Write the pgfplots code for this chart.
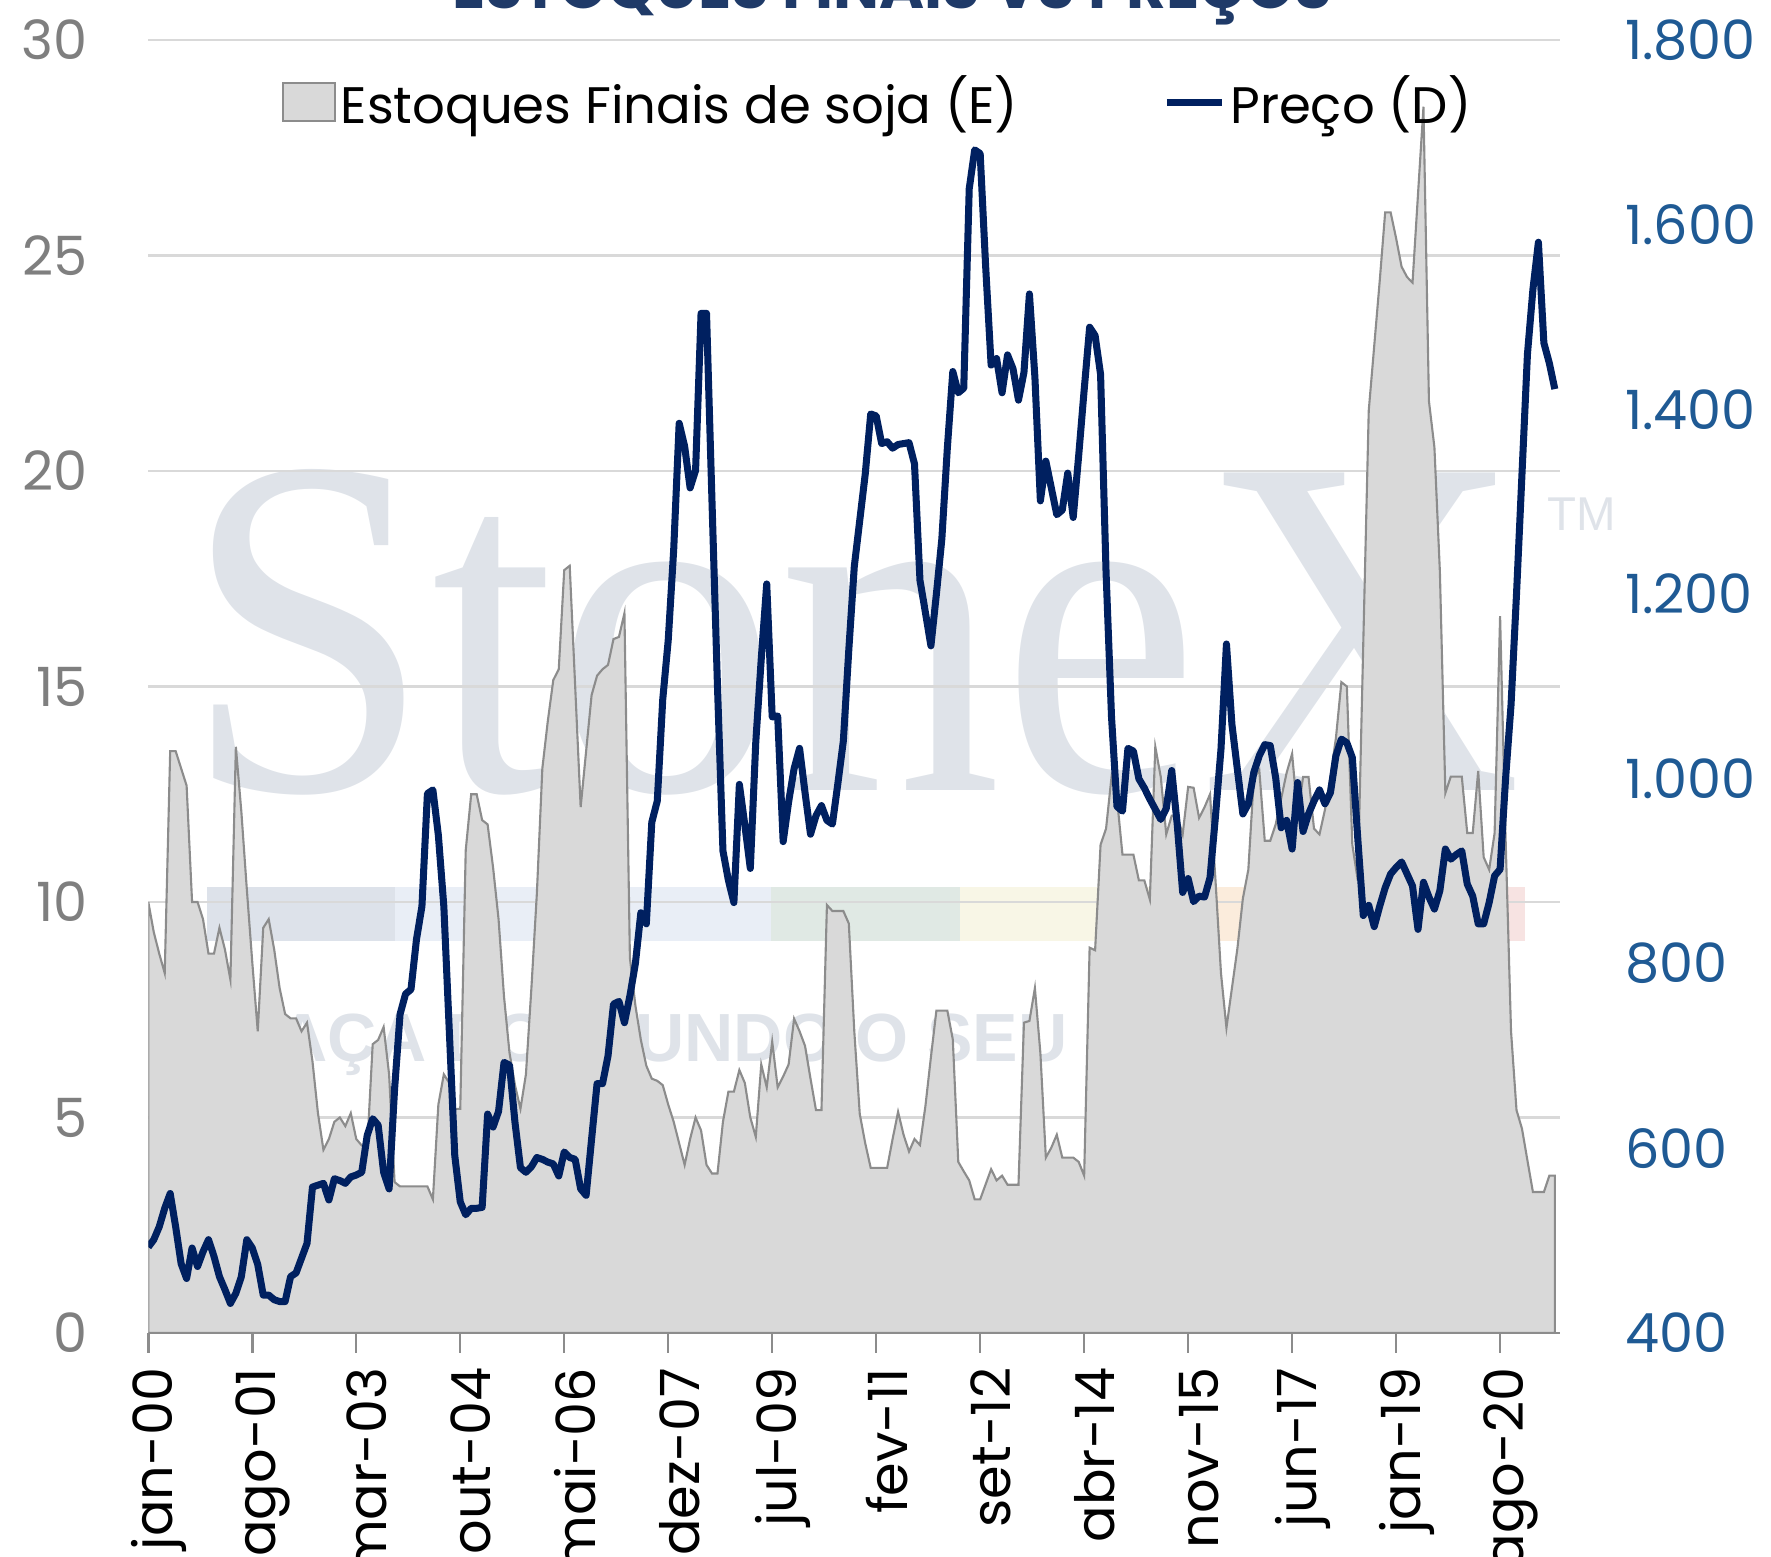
\documentclass[border=0pt]{standalone}
\usepackage{fontspec}
\setmainfont{Poppins}
\newfontfamily\serifwm{Liberation Serif}
\newfontfamily\sanswm{Liberation Sans}
\usepackage{pgfplots}
\usepackage{pgfplotstable}
\pgfplotsset{compat=1.18}
\definecolor{areagray}{HTML}{D9D9D9}
\definecolor{areaedge}{HTML}{8C8C8C}
\definecolor{navy}{HTML}{002060}
\definecolor{gridc}{HTML}{D9D9D9}
\definecolor{axisc}{HTML}{8C8C8C}
\definecolor{leftlab}{HTML}{7F7F7F}
\definecolor{rightlab}{HTML}{1F5A94}
\definecolor{titlec}{HTML}{1F3A68}
\definecolor{wm}{HTML}{DFE3E9}
\definecolor{bandA}{HTML}{DDE2EA}
\definecolor{bandB}{HTML}{E9EEF6}
\definecolor{bandC}{HTML}{E0E9E4}
\definecolor{bandD}{HTML}{F8F6E6}
\definecolor{bandE}{HTML}{FBECDC}
\definecolor{bandF}{HTML}{F7E3E2}

\pgfplotstableread[row sep=\\]{m v\\
0 10.0\\1 9.3\\2 8.8\\3 8.35\\4 13.5\\5 13.5\\6 13.1\\7 12.7\\8 10.0\\9 10.0\\
10 9.6\\11 8.8\\12 8.8\\13 9.4\\14 8.9\\15 8.2\\16 13.6\\17 12.1\\18 10.3\\19 8.6\\
20 7.0\\21 9.4\\22 9.6\\23 8.9\\24 8.0\\25 7.4\\26 7.3\\27 7.3\\28 7.0\\29 7.2\\
30 6.3\\31 5.1\\32 4.25\\33 4.5\\34 4.9\\35 5.0\\36 4.8\\37 5.1\\38 4.5\\39 4.35\\
40 4.3\\41 6.7\\42 6.8\\43 7.1\\44 6.0\\45 3.5\\46 3.4\\47 3.4\\48 3.4\\49 3.4\\
50 3.4\\51 3.4\\52 3.1\\53 5.3\\54 6.0\\55 5.8\\56 5.2\\57 5.2\\58 11.2\\59 12.5\\
60 12.5\\61 11.9\\62 11.8\\63 10.8\\64 9.6\\65 7.8\\66 6.5\\67 5.75\\68 5.2\\69 6.0\\
70 8.0\\71 10.2\\72 13.1\\73 14.2\\74 15.15\\75 15.4\\76 17.7\\77 17.8\\78 15.0\\79 12.2\\
80 13.5\\81 14.8\\82 15.25\\83 15.4\\84 15.5\\85 16.1\\86 16.15\\87 16.7\\88 8.7\\89 7.6\\
90 6.8\\91 6.2\\92 5.9\\93 5.85\\94 5.75\\95 5.3\\96 4.9\\97 4.4\\98 3.9\\99 4.5\\
100 5.0\\101 4.7\\102 3.9\\103 3.7\\104 3.7\\105 4.9\\106 5.6\\107 5.6\\108 6.1\\109 5.8\\
110 5.0\\111 4.55\\112 6.23\\113 5.7\\114 6.76\\115 5.7\\116 5.95\\117 6.23\\118 7.29\\119 7.0\\
120 6.66\\121 5.9\\122 5.17\\123 5.17\\124 9.93\\125 9.79\\126 9.79\\127 9.79\\128 9.5\\129 7.0\\
130 5.08\\131 4.4\\132 3.83\\133 3.83\\134 3.83\\135 3.83\\136 4.5\\137 5.13\\138 4.6\\139 4.21\\
140 4.5\\141 4.36\\142 5.27\\143 6.4\\144 7.48\\145 7.48\\146 7.48\\147 6.81\\148 3.97\\149 3.75\\
150 3.54\\151 3.1\\152 3.1\\153 3.45\\154 3.8\\155 3.54\\156 3.65\\157 3.44\\158 3.44\\159 3.44\\
160 7.2\\161 7.24\\162 8.0\\163 6.5\\164 4.07\\165 4.3\\166 4.6\\167 4.07\\168 4.07\\169 4.07\\
170 3.97\\171 3.65\\172 8.94\\173 8.88\\174 11.33\\175 11.7\\176 12.9\\177 12.4\\178 11.1\\179 11.1\\
180 11.1\\181 10.5\\182 10.5\\183 10.06\\184 13.6\\185 12.9\\186 11.57\\187 12.0\\188 12.0\\189 11.57\\
190 12.67\\191 12.65\\192 11.95\\193 12.2\\194 12.5\\195 10.5\\196 8.35\\197 7.08\\198 8.0\\199 8.92\\
200 10.08\\201 10.75\\202 12.87\\203 13.06\\204 11.42\\205 11.42\\206 11.8\\207 12.4\\208 13.0\\209 13.44\\
210 12.0\\211 12.9\\212 12.9\\213 11.7\\214 11.57\\215 12.14\\216 12.9\\217 13.8\\218 15.1\\219 15.0\\
220 11.33\\221 10.5\\222 16.0\\223 21.4\\224 22.9\\225 24.4\\226 26.0\\227 26.0\\228 25.4\\229 24.74\\
230 24.5\\231 24.37\\232 26.42\\233 28.45\\234 21.62\\235 20.55\\236 17.66\\237 12.53\\238 12.91\\239 12.91\\
240 12.91\\241 11.6\\242 11.6\\243 13.04\\244 11.04\\245 10.75\\246 11.6\\247 16.63\\248 11.5\\249 7.0\\
250 5.17\\251 4.74\\252 4.0\\253 3.27\\254 3.27\\255 3.27\\256 3.65\\257 3.65\\
}\stocks

\pgfplotstableread[row sep=\\]{m v\\
0 493\\1 501\\2 515\\3 535\\4 551\\5 515\\6 475\\7 459\\8 492\\9 472\\
10 488\\11 501\\12 483\\13 461\\14 447\\15 432\\16 443\\17 461\\18 501\\19 492\\
20 474\\21 441\\22 441\\23 436\\24 434\\25 434\\26 461\\27 465\\28 481\\29 497\\
30 558\\31 560\\32 562\\33 544\\34 567\\35 565\\36 562\\37 569\\38 571\\39 574\\
40 614\\41 632\\42 625\\43 574\\44 556\\45 664\\46 745\\47 767\\48 772\\49 826\\
50 862\\51 984\\52 988\\53 939\\54 862\\55 727\\56 592\\57 542\\58 528\\59 535\\
60 535\\61 536\\62 637\\63 623\\64 640\\65 693\\66 690\\67 628\\68 579\\69 574\\
70 580\\71 590\\72 588\\73 585\\74 583\\75 570\\76 596\\77 590\\78 588\\79 556\\
80 549\\81 610\\82 670\\83 670\\84 700\\85 756\\86 759\\87 736\\88 765\\89 800\\
90 855\\91 843\\92 953\\93 976\\94 1086\\95 1150\\96 1248\\97 1385\\98 1360\\99 1315\\
100 1334\\101 1504\\102 1504\\103 1300\\104 1100\\105 922\\106 890\\107 866\\108 994\\109 950\\
110 903\\111 1040\\112 1130\\113 1211\\114 1067\\115 1068\\116 932\\117 975\\118 1011\\119 1033\\
120 985\\121 940\\122 960\\123 971\\124 955\\125 951\\126 995\\127 1041\\128 1140\\129 1230\\
130 1280\\131 1330\\132 1395\\133 1393\\134 1363\\135 1365\\136 1358\\137 1362\\138 1363\\139 1364\\
140 1341\\141 1215\\142 1180\\143 1144\\144 1200\\145 1260\\146 1358\\147 1441\\148 1418\\149 1423\\
150 1639\\151 1681\\152 1677\\153 1555\\154 1448\\155 1455\\156 1418\\157 1459\\158 1444\\159 1410\\
160 1440\\161 1525\\162 1435\\163 1301\\164 1344\\165 1315\\166 1286\\167 1291\\168 1331\\169 1283\\
170 1350\\171 1421\\172 1489\\173 1480\\174 1438\\175 1224\\176 1067\\177 970\\178 965\\179 1033\\
180 1030\\181 1000\\182 990\\183 978\\184 967\\185 956\\186 968\\187 1009\\188 951\\189 877\\
190 892\\191 867\\192 873\\193 872\\194 893\\195 960\\196 1032\\197 1146\\198 1059\\199 1010\\
200 962\\201 973\\202 1007\\203 1025\\204 1037\\205 1036\\206 1001\\207 947\\208 955\\209 924\\
210 996\\211 943\\212 962\\213 976\\214 988\\215 973\\216 985\\217 1025\\218 1043\\219 1039\\
220 1023\\221 935\\222 852\\223 863\\224 840\\225 862\\226 882\\227 897\\228 904\\229 910\\
230 897\\231 884\\232 837\\233 888\\234 872\\235 859\\236 879\\237 924\\238 913\\239 918\\
240 922\\241 886\\242 873\\243 843\\244 843\\245 866\\246 895\\247 902\\248 1000\\249 1080\\
250 1200\\251 1330\\252 1460\\253 1530\\254 1581\\255 1472\\256 1450\\257 1422\\
}\price

\pgfplotsset{/pgf/number format/assume math mode=true}
\newcommand{\lblfont}{\fontsize{15.4}{18}\selectfont}
\newcommand{\legfont}{\fontsize{14.6}{18}\selectfont}

\begin{document}
\begin{tikzpicture}
\useasboundingbox (0,0) rectangle (17.71,15.57);
% watermark (background decoration)
\fill[bandA] (2.07,6.16) rectangle (3.95,6.70);
\fill[bandB] (3.95,6.16) rectangle (7.71,6.70);
\fill[bandC] (7.71,6.16) rectangle (9.60,6.70);
\fill[bandD] (9.60,6.16) rectangle (12.10,6.70);
\fill[bandE] (12.10,6.16) rectangle (13.70,6.70);
\fill[bandF] (13.70,6.16) rectangle (15.25,6.70);
\node[anchor=base west, inner sep=0pt, text=wm, xscale=0.92,
      font=\serifwm\fontsize{138}{140}\selectfont] at (1.83,7.66) {StoneX};
\node[anchor=base west, inner sep=0pt, text=wm,
      font=\sanswm\fontsize{13.5}{14}\selectfont] at (15.47,10.26) {TM};
\node[anchor=base west, inner sep=0pt, text=wm,
      font=\sanswm\bfseries\fontsize{19.4}{20}\selectfont] at (2.40,4.95) {FAÇA DO};
\node[anchor=base west, inner sep=0pt, text=wm,
      font=\sanswm\bfseries\fontsize{19.4}{20}\selectfont] at (5.78,4.95) {MUNDO O SEU};
% title (cut off at the top, as in the reference)
\node[anchor=base, inner sep=0pt, text=titlec,
      font=\bfseries\fontsize{17.4}{20}\selectfont] at (8.92,15.48) {ESTOQUES FINAIS VS PREÇOS};

\begin{axis}[
  at={(1.483cm,2.24cm)}, anchor=south west,
  scale only axis, width=14.12cm, height=12.93cm,
  xmin=0, xmax=258, ymin=0, ymax=30,
  axis x line*=bottom, axis y line*=left,
  y axis line style={draw=none},
  x axis line style={draw=axisc, line width=0.7pt, -},
  xtick={0,19,...,247},
  xticklabels={jan-00,ago-01,mar-03,out-04,mai-06,dez-07,jul-09,fev-11,set-12,abr-14,nov-15,jun-17,jan-19,ago-20},
  xtick style={draw=axisc, line width=0.7pt},
  major tick length=0.2cm, tick align=outside,
  ytick={0,5,...,30},
  ytick style={draw=none},
  ymajorgrids, grid style={draw=gridc, line width=0.6pt},
  yticklabel style={font=\lblfont, text=leftlab, anchor=east, inner sep=0pt, xshift=-0.40cm},
  xticklabel style={font=\lblfont, text=black, rotate=90, anchor=east, inner sep=0pt, xshift=-0.14cm, yshift=-0.11cm},
  legend style={draw=none, fill=none, at={(0.094,0.952)}, anchor=west, inner sep=0pt,
     font=\legfont, legend columns=2,
     nodes={inner sep=0.05cm},
     /tikz/every even column/.append style={column sep=1.4cm}},
  legend cell align=left,
]
\addplot[fill=areagray, draw=areaedge, line width=0.6pt,
  legend image code/.code={\draw[fill=areagray, draw=areaedge, line width=0.6pt] (0cm,-0.19cm) rectangle (0.52cm,0.19cm);}]
  table[x=m, y=v] {\stocks} \closedcycle;
\addlegendentry{Estoques Finais de soja (E)}
\addlegendimage{legend image code/.code={\draw[navy, line width=2pt] (0cm,0cm) -- (0.55cm,0cm);}}
\addlegendentry{Preço (D)}
\end{axis}

\begin{axis}[
  at={(1.483cm,2.24cm)}, anchor=south west,
  scale only axis, width=14.12cm, height=12.93cm,
  xmin=0, xmax=258, ymin=400, ymax=1800,
  hide x axis,
  axis y line*=right, y axis line style={draw=none},
  ytick={400,600,...,1800}, ytick style={draw=none},
  scaled y ticks=false,
  yticklabel style={font=\lblfont, text=rightlab, anchor=west, inner sep=0pt, xshift=0.64cm,
     /pgf/number format/.cd, 1000 sep={.}},
]
\addplot[navy, line width=2pt, line join=round] table[x=m, y=v] {\price};
\end{axis}
\end{tikzpicture}
\end{document}
